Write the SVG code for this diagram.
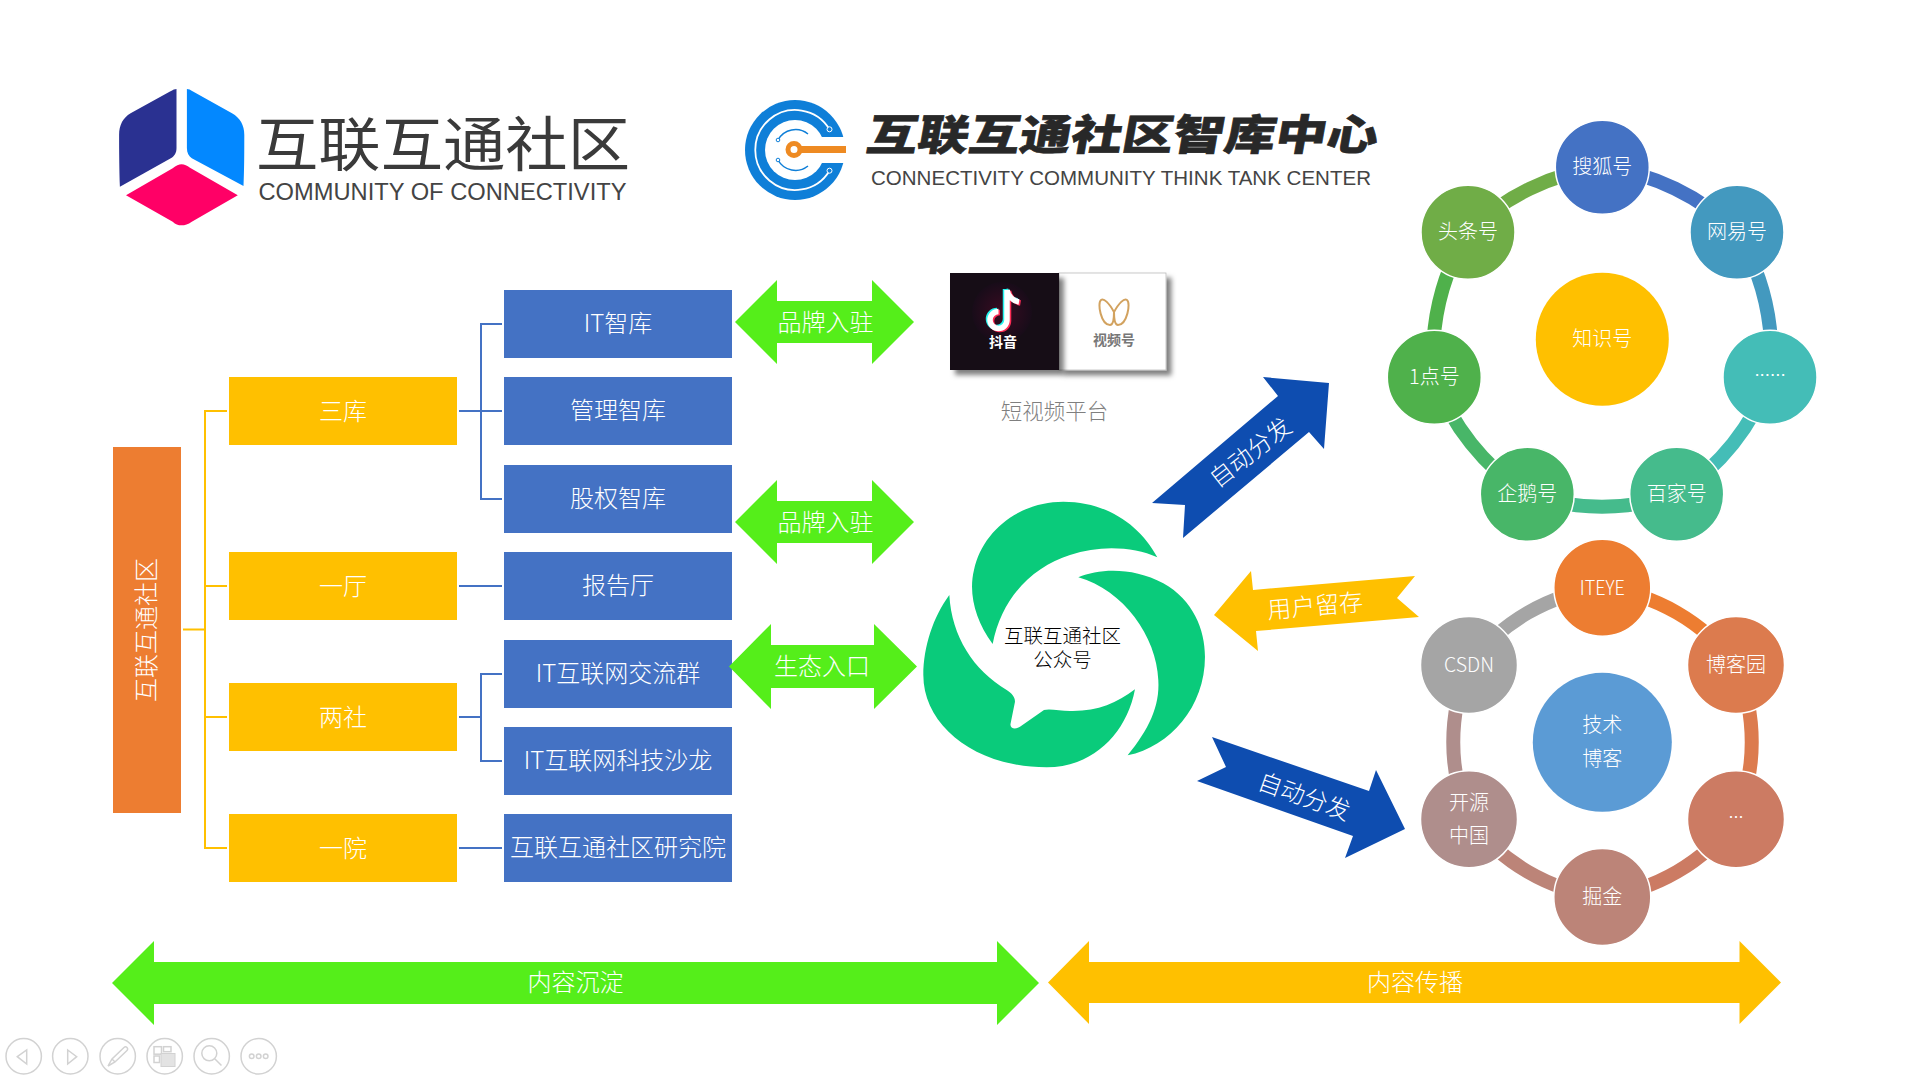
<svg xmlns="http://www.w3.org/2000/svg" width="1920" height="1080" viewBox="0 0 1920 1080">
<defs>
<style>
text{font-family:"Noto Sans CJK SC","Liberation Sans",sans-serif;text-anchor:middle;dominant-baseline:central;fill:#fff;font-weight:300}
.t24{font-size:24px}
.t20{font-size:20px}
.yb{fill:#FFC000}
.bb{fill:#4472C4}
.ga{fill:#55EE1A}
.ya{fill:#FFC000}
.da{fill:#0E4DB0}
.nd{stroke:#fff;stroke-width:1.5}
.ring{fill:none;stroke-width:14}
.tool{fill:none;stroke:#d2d2d2;stroke-width:1.5}
.toolf{fill:#e3e3e3;stroke:#d2d2d2;stroke-width:1}
.wc{fill:#0ACB7B}
</style>
<filter id="sh" x="-10%" y="-10%" width="120%" height="125%"><feDropShadow dx="5" dy="5" stdDeviation="2.5" flood-color="#000" flood-opacity=".5"/></filter>
<radialGradient id="tk"><stop offset="0" stop-color="#3a0c22"/><stop offset="1" stop-color="#180c19"/></radialGradient>
</defs>
<rect width="1920" height="1080" fill="#fff"/>

<g id="logo-community">
<path fill="#2A3191" d="M176.500 89V148C176.500 153 174.500 156 170.800 158.300L119.900 186.700C119.300 170 119.100 150 119.100 135C119.100 125 123 118 130.600 113.300L170 91.500C173 89.800 175 89 176.500 89Z"/>
<path fill="#0388FF" d="M186.900 89V148C186.900 153 188.900 156 191.800 158.300L243.500 186C244.300 170 244.300 150 244.300 135C244.300 125 240 118 232 113.300L193 91.500C190.500 89.800 188.500 89 186.900 89Z"/>
<path fill="#FF0066" d="M126 195.300L172.700 168.300C176 165.500 179 164.300 181.500 164.300C184.500 164.300 187 165.500 190 167.700L237.800 195.300L191.800 221.700C188 224.500 185 225.300 181.500 225.300C178 225.300 175.500 224.500 172.700 221.700Z"/>
<text x="443" y="140" font-size="59" textLength="374" lengthAdjust="spacingAndGlyphs" style="fill:#3a3a3a;font-weight:400">互联互通社区</text>
<text x="442.500" y="191" font-size="24.300" textLength="368" lengthAdjust="spacingAndGlyphs" style="fill:#444;font-family:'Liberation Sans',sans-serif;font-weight:400">COMMUNITY OF CONNECTIVITY</text>
</g>

<g id="logo-thinktank">
<circle cx="795" cy="150" r="50" fill="#0F7FD8"/>
<circle cx="795" cy="150" r="30" fill="#fff"/>
<rect x="800" y="137" width="50" height="26" fill="#fff"/>
<path d="M829.500 129.300A40 40 0 1 0 829.500 170.700" fill="none" stroke="#fff" stroke-width="1.800"/>
<circle cx="829.500" cy="129.300" r="2.500" fill="#0F7FD8" stroke="#fff"/>
<circle cx="829.500" cy="170.700" r="2.500" fill="#0F7FD8" stroke="#fff"/>
<path d="M778 140A20 20 0 0 1 808 134M778 160A20 20 0 0 0 808 166" fill="none" stroke="#0F7FD8" stroke-width="1.500"/>
<circle cx="778" cy="140" r="1.800" fill="#fff" stroke="#0F7FD8"/>
<circle cx="778" cy="160" r="1.800" fill="#fff" stroke="#0F7FD8"/>
<rect x="798" y="146" width="48" height="7" fill="#EE8A22"/>
<circle cx="794" cy="149.500" r="6" fill="#fff" stroke="#EE8A22" stroke-width="5"/>
<g transform="translate(1123.500,131.500) skewX(-10)">
<text x="0" y="0" font-size="42" textLength="511" lengthAdjust="spacingAndGlyphs" stroke="#282828" stroke-width=".6" style="fill:#282828;font-weight:900">互联互通社区智库中心</text>
</g>
<text x="1121" y="178" font-size="19.600" textLength="500" lengthAdjust="spacingAndGlyphs" style="fill:#444;font-family:'Liberation Sans',sans-serif;font-weight:400">CONNECTIVITY COMMUNITY THINK TANK CENTER</text>
</g>

<g id="connectors" fill="none" stroke-width="2">
<path stroke="#FFC000" d="M183 629.500H205M227 411H205V848H227M205 586H227M205 717H227"/>
<path stroke="#4472C4" d="M459 411H502M502 324H481V499H502M459 586H502M459 717H481M502 674H481V761H502M459 848H502"/>
</g>

<g id="root"><rect x="113" y="447" width="68" height="366" fill="#ED7D31"/><text class="t24" transform="translate(144.500,630) rotate(-90)">互联互通社区</text></g>
<g id="n-sanku"><rect class="yb" x="229" y="377" width="228" height="68"/><text class="t24" x="343" y="409">三库</text></g>
<g id="n-yiting"><rect class="yb" x="229" y="552" width="228" height="68"/><text class="t24" x="343" y="584">一厅</text></g>
<g id="n-liangshe"><rect class="yb" x="229" y="683" width="228" height="68"/><text class="t24" x="343" y="715">两社</text></g>
<g id="n-yiyuan"><rect class="yb" x="229" y="814" width="228" height="68"/><text class="t24" x="343" y="846">一院</text></g>

<g id="b-it"><rect class="bb" x="504" y="290" width="228" height="68"/><text class="t24" x="618" y="321">IT智库</text></g>
<g id="b-mgmt"><rect class="bb" x="504" y="377" width="228" height="68"/><text class="t24" x="618" y="408.500">管理智库</text></g>
<g id="b-equity"><rect class="bb" x="504" y="465" width="228" height="68"/><text class="t24" x="618" y="496">股权智库</text></g>
<g id="b-report"><rect class="bb" x="504" y="552" width="228" height="68"/><text class="t24" x="618" y="583">报告厅</text></g>
<g id="b-group"><rect class="bb" x="504" y="640" width="228" height="68"/><text class="t24" x="618" y="671">IT互联网交流群</text></g>
<g id="b-salon"><rect class="bb" x="504" y="727" width="228" height="68"/><text class="t24" x="618" y="758">IT互联网科技沙龙</text></g>
<g id="b-inst"><rect class="bb" x="504" y="814" width="228" height="68"/><text class="t24" x="618" y="845">互联互通社区研究院</text></g>

<g id="arrow-brand1"><polygon class="ga" points="735,322 777,280 777,301 872,301 872,280 914,322 872,364 872,343 777,343 777,364"/><text class="t24" x="825.500" y="320">品牌入驻</text></g>
<g id="arrow-brand2"><polygon class="ga" points="735,522 777,480 777,501 872,501 872,480 914,522 872,564 872,543 777,543 777,564"/><text class="t24" x="825.500" y="520">品牌入驻</text></g>
<g id="arrow-eco"><polygon class="ga" points="729,666.500 771,624 771,645 874,645 874,624 917,666.500 874,709 874,688 771,688 771,709"/><text class="t24" x="822" y="664.500">生态入口</text></g>

<g id="short-video">
<rect x="1059" y="273" width="107" height="97" fill="#fff" stroke="#bbb" stroke-width=".8" filter="url(#sh)"/>
<rect x="950" y="273" width="109" height="97" fill="#170C19" filter="url(#sh)"/>
<circle cx="1002" cy="312" r="30" fill="url(#tk)"/>
<g fill="none" stroke-width="5.500" transform="translate(2,-1)">
<path stroke="#25F4EE" transform="translate(-1.500,-1)" d="M1005 291V321A8.500 8.500 0 1 1 996.500 312.500M1005 291C1006 297 1011 302 1017 303"/>
<path stroke="#FE2C55" transform="translate(1.500,1)" d="M1005 291V321A8.500 8.500 0 1 1 996.500 312.500M1005 291C1006 297 1011 302 1017 303"/>
<path stroke="#fff" d="M1005 291V321A8.500 8.500 0 1 1 996.500 312.500M1005 291C1006 297 1011 302 1017 303"/>
</g>
<text x="1003" y="341" style="font-size:14px;font-weight:700">抖音</text>
<path transform="translate(1,0)" d="M1113 312C1108 303 1103 298 1100 300C1096 303 1100 325 1109 325C1113 325 1113 316 1113 312C1113 316 1113 325 1117 325C1126 325 1130 303 1126 300C1123 298 1118 303 1113 312Z" fill="none" stroke="#D2A25F" stroke-width="2"/>
<text x="1114" y="339" style="font-size:14px;fill:#777;font-weight:700">视频号</text>
<text x="1054.500" y="409" style="font-size:21.500px;fill:#7f7f7f">短视频平台</text>
</g>

<g id="wechat">
<g transform="translate(900,480) scale(.3333)">
<path class="wc" d="M278 492C225 420 205 340 222 270C248 150 360 65 490 65C620 65 720 135 772 232C700 200 600 195 510 225C400 260 305 350 278 492Z"/>
<path class="wc" d="M535 292C600 265 700 262 790 310C880 360 915 450 915 530C915 680 810 800 683 826C745 750 780 680 775 600C770 470 670 330 535 292Z"/>
<path class="wc" d="M148 345C100 410 70 500 70 585C70 740 230 862 440 862C580 862 680 760 705 628C650 670 590 695 510 693C480 693 450 685 432 690L360 740C345 750 328 745 332 730L345 665C345 650 335 640 320 630C220 570 155 470 148 345Z"/>
</g>
<text x="1062.500" y="634" style="font-size:19.500px;fill:#000">互联互通社区</text>
<text x="1062.500" y="658.500" style="font-size:19.500px;fill:#000">公众号</text>
</g>

<g id="arrow-dist1"><polygon class="da" points="1329,383 1324,449 1309,432 1183,538 1185,505 1152,503 1278,396 1263,377"/><text class="t24" transform="translate(1249,451) rotate(-38)">自动分发</text></g>
<g id="arrow-retain"><polygon class="ya" points="1214,615 1251,571 1253,590 1415,576 1397,598 1419,617 1256,631 1258,651"/><text class="t24" transform="translate(1315,604) rotate(-5)">用户留存</text></g>
<g id="arrow-dist2"><polygon class="da" points="1212,737 1226,767 1197,781 1353,836 1345,858 1405,829 1376,770 1369,791"/><text class="t24" transform="translate(1305,794.500) rotate(19.500)">自动分发</text></g>

<g id="ring-knowledge">
<path class="ring" stroke="#4472C4" d="M1602.300 167.300A232 232 0 0 1 1737 232.300"/>
<path class="ring" stroke="#4399BF" d="M1737 232.300A232 232 0 0 1 1770 377.300"/>
<path class="ring" stroke="#44BDB7" d="M1770 377.300A232 232 0 0 1 1676.700 494.300"/>
<path class="ring" stroke="#45BB8C" d="M1676.700 494.300A232 232 0 0 1 1527.300 494.300"/>
<path class="ring" stroke="#48B668" d="M1527.300 494.300A232 232 0 0 1 1434.300 377.300"/>
<path class="ring" stroke="#4FB14B" d="M1434.300 377.300A232 232 0 0 1 1468 232.300"/>
<path class="ring" stroke="#70AD47" d="M1468 232.300A232 232 0 0 1 1602.300 167.300"/>
</g>
<g id="k-center"><circle cx="1602.300" cy="339.300" r="66.500" fill="#FFC000"/><text class="t20" x="1602.300" y="337.500">知识号</text></g>
<g id="k-sohu"><circle class="nd" cx="1602.300" cy="167.300" r="47" fill="#4472C4"/><text class="t20" x="1602.300" y="165.500">搜狐号</text></g>
<g id="k-163"><circle class="nd" cx="1737" cy="232.300" r="47" fill="#4399BF"/><text class="t20" x="1737" y="230.500">网易号</text></g>
<g id="k-more"><circle class="nd" cx="1770" cy="377.300" r="47" fill="#44BDB7"/><text x="1770" y="369" style="font-size:18.700px;font-family:'Liberation Sans',sans-serif">......</text></g>
<g id="k-baijia"><circle class="nd" cx="1676.700" cy="494.300" r="47" fill="#45BB8C"/><text class="t20" x="1676.700" y="492.500">百家号</text></g>
<g id="k-penguin"><circle class="nd" cx="1527.300" cy="494.300" r="47" fill="#48B668"/><text class="t20" x="1527.300" y="492.500">企鹅号</text></g>
<g id="k-yidian"><circle class="nd" cx="1434.300" cy="377.300" r="47" fill="#4FB14B"/><text class="t20" x="1434.300" y="375.500">1点号</text></g>
<g id="k-toutiao"><circle class="nd" cx="1468" cy="232.300" r="47" fill="#70AD47"/><text class="t20" x="1468" y="230.500">头条号</text></g>

<g id="ring-tech">
<path class="ring" stroke="#ED7D31" d="M1602.300 587.700A197 197 0 0 1 1736 665"/>
<path class="ring" stroke="#DC7B4E" d="M1736 665A197 197 0 0 1 1736 819.300"/>
<path class="ring" stroke="#CC7B63" d="M1736 819.300A197 197 0 0 1 1602.300 897"/>
<path class="ring" stroke="#BC8478" d="M1602.300 897A197 197 0 0 1 1469 819.300"/>
<path class="ring" stroke="#AF8E8C" d="M1469 819.300A197 197 0 0 1 1469 665"/>
<path class="ring" stroke="#A5A5A5" d="M1469 665A197 197 0 0 1 1602.300 587.700"/>
</g>
<g id="t-center"><circle cx="1602.300" cy="742.300" r="69.500" fill="#5B9BD5"/><text class="t20" x="1602.300" y="723">技术</text><text class="t20" x="1602.300" y="757">博客</text></g>
<g id="t-iteye"><circle class="nd" cx="1602.300" cy="587.700" r="48.500" fill="#ED7D31"/><text class="t20" x="1602.300" y="586" textLength="45" lengthAdjust="spacingAndGlyphs">ITEYE</text></g>
<g id="t-cnblogs"><circle class="nd" cx="1736" cy="665" r="48.500" fill="#DC7B4E"/><text class="t20" x="1736" y="663">博客园</text></g>
<g id="t-more"><circle class="nd" cx="1736" cy="819.300" r="48.500" fill="#CC7B63"/><text x="1736" y="812" style="font-size:18px;font-family:'Liberation Sans',sans-serif">...</text></g>
<g id="t-juejin"><circle class="nd" cx="1602.300" cy="897" r="48.500" fill="#BC8478"/><text class="t20" x="1602.300" y="895">掘金</text></g>
<g id="t-oschina"><circle class="nd" cx="1469" cy="819.300" r="48.500" fill="#AF8E8C"/><text class="t20" x="1469" y="801">开源</text><text class="t20" x="1469" y="834.500">中国</text></g>
<g id="t-csdn"><circle class="nd" cx="1469" cy="665" r="48.500" fill="#A5A5A5"/><text class="t20" x="1469" y="663" textLength="50" lengthAdjust="spacingAndGlyphs">CSDN</text></g>

<g id="band-settle"><polygon class="ga" points="112,983 154,941 154,962 997,962 997,941 1039,983 997,1025 997,1004 154,1004 154,1025"/><text class="t24" x="575.500" y="980">内容沉淀</text></g>
<g id="band-spread"><polygon class="ya" points="1048,982.500 1089,941 1089,962 1739.500,962 1739.500,941 1781,982.500 1739.500,1024 1739.500,1003 1089,1003 1089,1024"/><text class="t24" x="1415" y="980">内容传播</text></g>

<g id="toolbar">
<circle class="tool" cx="23.700" cy="1056.300" r="17.700"/><polygon class="tool" points="17.300,1056.700 26.700,1050 26.700,1064"/>
<circle class="tool" cx="70.300" cy="1056.300" r="17.700"/><polygon class="tool" points="67.700,1050 76.700,1056.700 67.700,1064"/>
<circle class="tool" cx="117.700" cy="1056.300" r="17.700"/><path class="tool" d="M108 1066L112 1059L124 1047.500C126 1045.500 129 1048.500 127 1050.500L115 1062L108 1066M112 1059L115 1062"/>
<circle class="tool" cx="164.700" cy="1056.300" r="17.700"/><rect class="tool" x="154" y="1046.700" width="7.500" height="7.500"/><rect class="tool" x="163.500" y="1046.700" width="7.500" height="5"/><rect class="tool" x="154" y="1056" width="5.500" height="6.500"/><rect class="toolf" x="161" y="1053.500" width="14" height="13"/>
<circle class="tool" cx="211.700" cy="1056.300" r="17.700"/><circle class="tool" cx="209.300" cy="1053.300" r="7.500"/><path class="tool" stroke-width="2.500" d="M215 1059L221.500 1065.500"/>
<circle class="tool" cx="258.700" cy="1056.300" r="17.700"/><circle class="tool" cx="251.700" cy="1056.300" r="2.300"/><circle class="tool" cx="258.700" cy="1056.300" r="2.300"/><circle class="tool" cx="265.700" cy="1056.300" r="2.300"/>
</g>
</svg>
